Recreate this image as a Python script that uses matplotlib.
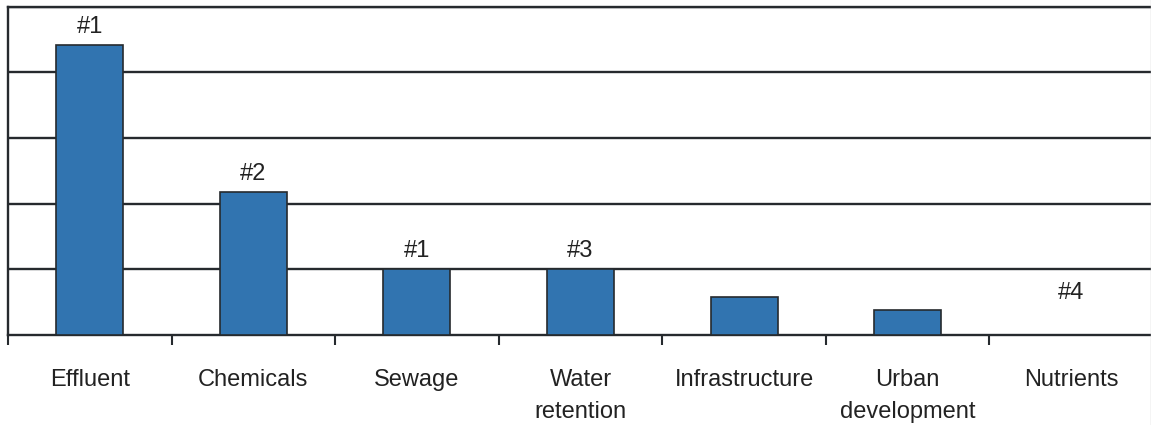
import numpy as np
import matplotlib.pyplot as plt

plt.rcParams['font.family'] = ['Liberation Sans', 'DejaVu Sans']

categories = ["Effluent", "Chemicals", "Sewage", "Water\nretention",
              "Infrastructure", "Urban\ndevelopment", "Nutrients"]
values = [4.41, 2.18, 1.0, 1.0, 0.58, 0.38, 0.0]
ranks = ["#1", "#2", "#1", "#3", "", "", "#4"]

bar_color = "#3174b0"
line_color = "#262a2e"

fig = plt.figure(figsize=(11.51, 4.25), dpi=100)
ax = fig.add_axes([8 / 1151, 90 / 425, 1145 / 1151, 328.5 / 425])

x = np.arange(len(categories))
ax.bar(x, values, width=0.41, color=bar_color, edgecolor=line_color,
       linewidth=1.2, zorder=3)

ax.set_xlim(-0.5, len(categories) - 0.5)
ax.set_ylim(0, 5)
ax.set_yticks(np.arange(1, 6))
ax.yaxis.grid(True, color=line_color, linewidth=1.7, zorder=1)
ax.tick_params(axis="y", left=False, labelleft=False)

ax.spines["right"].set_visible(False)
for s in ["left", "bottom", "top"]:
    ax.spines[s].set_color(line_color)
    ax.spines[s].set_linewidth(1.7)

# category separators below the baseline
ax.set_xticks(x - 0.5)
ax.tick_params(axis="x", direction="out", length=7, width=1.5,
               color=line_color, labelbottom=False)

for i, name in enumerate(categories):
    ax.annotate(name, xy=(i, 0), xycoords=("data", "axes fraction"),
                xytext=(0, -24.5), textcoords="offset points",
                ha="center", va="top", fontsize=17, color="#222222",
                linespacing=1.58)

# rank labels above each bar (empty bars get a lifted label)
label_y = np.maximum(values, 0.37)
for i, r in enumerate(ranks):
    if r:
        ax.annotate(r, xy=(i, label_y[i]), xytext=(0, 5),
                    textcoords="offset points", ha="center", va="bottom",
                    fontsize=17, color="#222222")

fig.add_artist(plt.Line2D([1150.5 / 1151] * 2, [0, 1], color="#c8c8c8",
                          linewidth=1))

fig.savefig("out.png", dpi=100)
